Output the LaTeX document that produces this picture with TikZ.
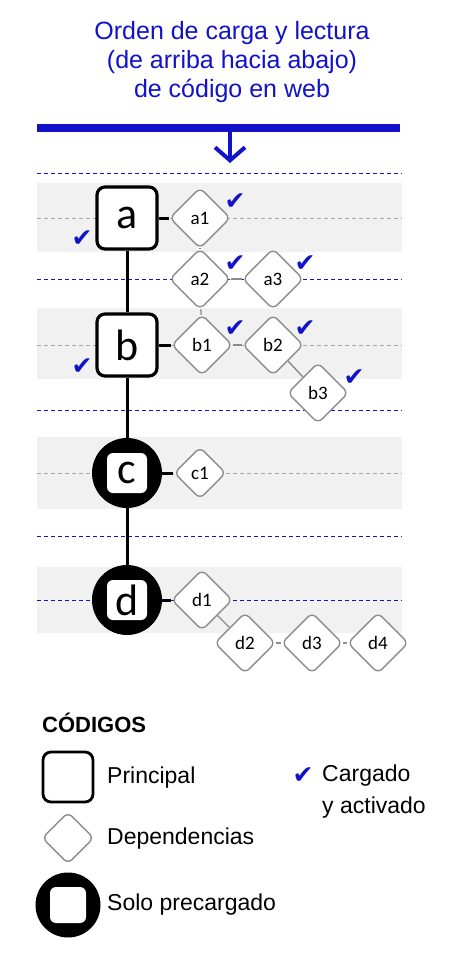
\documentclass[tikz,border=0pt]{standalone}
\usepackage{fontspec}
\setmainfont{Liberation Sans}
\newfontfamily\etiqueta{Carlito}
\newfontfamily\simbolo{DejaVu Sans}
\usepackage{tikz}
\usetikzlibrary{shapes.geometric,arrows.meta}
\definecolor{azulweb}{RGB}{18,18,200}
\definecolor{bordegris}{RGB}{140,140,140}
\definecolor{franja}{RGB}{241,241,241}

\begin{document}
\begin{tikzpicture}[x=1pt,y=-1pt,
			principal/.style={draw=black,line width=3.2pt,rounded corners=8pt,fill=white,minimum width=60pt,minimum height=62pt,inner sep=0pt,font={\etiqueta\fontsize{44}{44}\selectfont}},
			dependencia/.style={diamond,draw=bordegris,line width=1.4pt,rounded corners=6pt,fill=white,minimum size=61pt,inner sep=0pt,font={\etiqueta\fontsize{19}{19}\selectfont}},
			precarga/.style={circle,fill=black,minimum size=70pt,inner sep=0pt},
			precargaint/.style={rounded corners=6pt,fill=white,minimum size=40pt,inner sep=0pt,font={\etiqueta\fontsize{44}{44}\selectfont}},
			enlace/.style={line width=3pt},
			enlacedep/.style={draw=bordegris,line width=1.4pt},
			lineaazul/.style={azulweb,dash pattern=on 4pt off 3pt,line width=1pt},
			lineamedia/.style={gray!70,dash pattern=on 4pt off 3pt,line width=0.8pt},
			marca/.style={text=azulweb,inner sep=0pt,font={\simbolo\fontsize{25}{25}\selectfont}},
			leyenda/.style={anchor=west,inner sep=0pt,align=left,font={\fontsize{23}{32}\selectfont}}]
			\useasboundingbox[fill=white] (0,0) rectangle (454,974);
			
			% titulo y barra
			\node[text=azulweb,align=center,font={\fontsize{25}{29}\selectfont}](titulo) at (232,62) {Orden de carga y lectura\\(de arriba hacia abajo)\\de código en web};
			\node[fill=azulweb,minimum width=363pt,minimum height=8pt,inner sep=0pt](barra) at (218.5,128) {};
			\coordinate (flecha) at (230,163);
			\draw[azulweb,line width=4pt,-{Straight Barb[length=13pt,width=30pt]}] (barra.south -| flecha) -- (flecha);
			
			% franjas
			\fill[franja] (37,183) rectangle (402,252);
			\fill[franja] (37,308) rectangle (402,379);
			\fill[franja] (37,437) rectangle (402,509);
			\fill[franja] (37,567) rectangle (402,633);
			\draw[lineaazul] (37,173) -- (402,173);
			\draw[lineaazul] (37,279) -- (402,279);
			\draw[lineaazul] (37,410) -- (402,410);
			\draw[lineaazul] (37,536) -- (402,536);
			\draw[lineaazul] (37,600) -- (402,600);
			\draw[lineamedia] (37,218) -- (402,218);
			\draw[lineamedia] (37,345) -- (402,345);
			\draw[lineamedia] (37,473) -- (402,473);
			
			% codigos principales
			\node[principal](a) at (127,218) {a};
			\node[principal](b) at (127,345) {b};
			\node[precarga](c) at (127,473) {};
			\node[precargaint](cint) at (c) {c};
			\node[precarga](d) at (127,600) {};
			\node[precargaint](dint) at (d) {d};
			
			% dependencias
			\node[dependencia](a1) at (200,218) {a1};
			\node[dependencia](a2) at (200,279) {a2};
			\node[dependencia](a3) at (273,279) {a3};
			\node[dependencia](b1) at (202,345) {b1};
			\node[dependencia](b2) at (273,345) {b2};
			\node[dependencia](b3) at (318,393) {b3};
			\node[dependencia,minimum size=52pt](c1) at (200,473) {c1};
			\node[dependencia](d1) at (202,600) {d1};
			\node[dependencia](d2) at (245,643) {d2};
			\node[dependencia](d3) at (312,643) {d3};
			\node[dependencia](d4) at (378,643) {d4};
			
			\draw[enlace] (a) -- (b);
			\draw[enlace] (b) -- (c);
			\draw[enlace] (c) -- (d);
			\draw[enlace] (a) -- (a1);
			\draw[enlace] (b) -- (b1);
			\draw[enlace] (c) -- (c1);
			\draw[enlace] (d) -- (d1);
			\draw[enlacedep] (a1) -- (a2);
			\draw[enlacedep] (a2) -- (a3);
			\draw[enlacedep] (a2) -- (b1);
			\draw[enlacedep] (b1) -- (b2);
			\draw[enlacedep] (b2) -- (b3);
			\draw[enlacedep] (d1) -- (d2);
			\draw[enlacedep] (d2) -- (d3);
			\draw[enlacedep] (d3) -- (d4);
			
			% cargado y activado
			\node[marca](ma) at (82,239) {✔};
			\node[marca](mb) at (82,367) {✔};
			\node[marca](ma1) at (235,202) {✔};
			\node[marca](ma2) at (235,264) {✔};
			\node[marca](ma3) at (305,264) {✔};
			\node[marca](mb1) at (235,329) {✔};
			\node[marca](mb2) at (305,329) {✔};
			\node[marca](mb3) at (354,378) {✔};
			
			% leyenda
			\node[anchor=west,inner sep=0pt,font={\bfseries\fontsize{22}{22}\selectfont}](codigos) at (42,723) {CÓDIGOS};
			\node[principal,minimum width=50pt,minimum height=50pt,line width=2.8pt](lp) at (68,777) {};
			\node[leyenda](tp) at (107,778) {Principal};
			\node[dependencia,minimum size=52pt](ld) at (68,838) {};
			\node[leyenda](td) at (107,839) {Dependencias};
			\node[precarga,minimum size=65pt](ls) at (68,905) {};
			\node[precargaint,minimum size=36pt](lsint) at (ls) {};
			\node[leyenda](ts) at (107,905) {Solo precargado};
			\node[marca](lm) at (303,776) {✔};
			\node[leyenda](tm) at (322,792) {Cargado\\y activado};
\end{tikzpicture}
\end{document}
